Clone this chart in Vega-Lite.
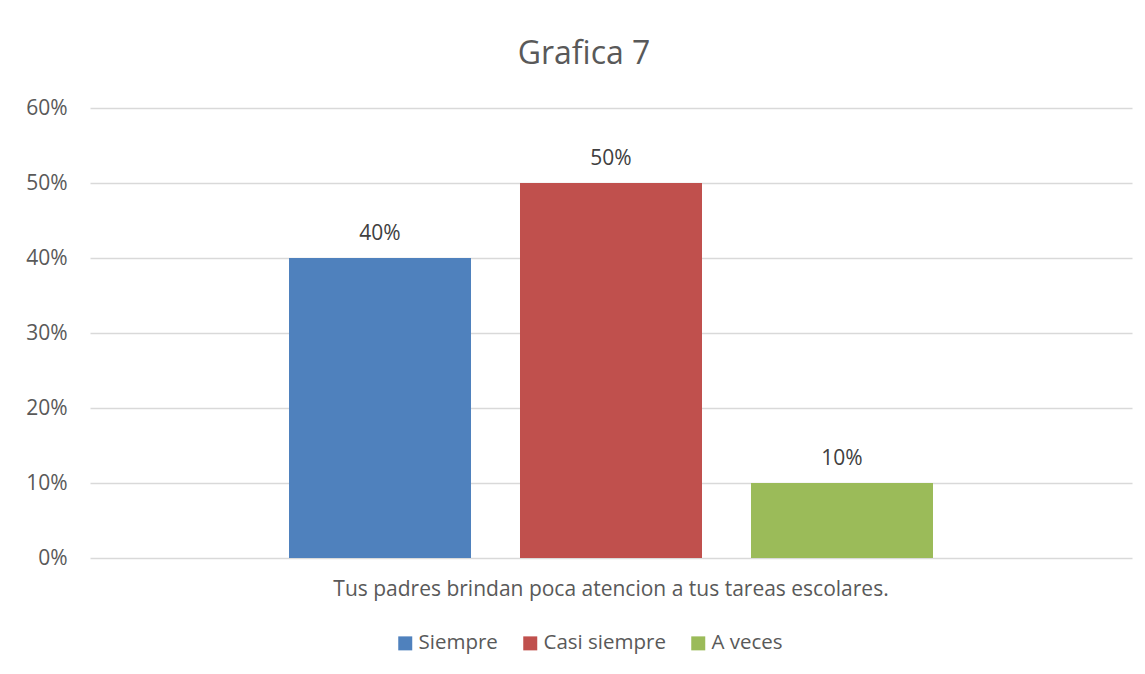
{
  "$schema": "https://vega.github.io/schema/vega-lite/v6.json",
  "autosize": {"type": "none"},
  "width": 1042,
  "height": 450,
  "padding": {"left": 90, "top": 108, "right": 13, "bottom": 116},
  "background": "white",
  "config": {"view": {"stroke": null}, "font": "Open Sans"},
  "title": {"text": "Grafica 7", "fontSize": 32, "font": "Open Sans", "fontWeight": "normal", "color": "#595959", "dx": -27, "offset": 26},
  "data": {"values": [
    {"pregunta": "Tus padres brindan poca atencion a tus tareas escolares.", "serie": "Siempre", "valor": 0.4},
    {"pregunta": "Tus padres brindan poca atencion a tus tareas escolares.", "serie": "Casi siempre", "valor": 0.5},
    {"pregunta": "Tus padres brindan poca atencion a tus tareas escolares.", "serie": "A veces", "valor": 0.1}
  ]},
  "encoding": {
    "x": {"field": "pregunta", "type": "nominal", "scale": {"paddingInner": 0, "paddingOuter": 0},
      "axis": {"title": null, "labelAngle": 0, "ticks": false, "domain": false, "labelPadding": 20, "labelFontSize": 21, "labelColor": "#595959", "labelFont": "Open Sans", "labelLimit": 1000}},
    "xOffset": {"field": "serie", "type": "nominal", "sort": ["Siempre", "Casi siempre", "A veces"], "scale": {"paddingInner": 0.2121, "paddingOuter": 0.8615}},
    "y": {"field": "valor", "type": "quantitative", "scale": {"domain": [0, 0.6]},
      "axis": {"title": null, "format": ".0%", "values": [0, 0.1, 0.2, 0.3, 0.4, 0.5, 0.6], "labelOverlap": false, "ticks": false, "domain": false, "labelPadding": 23, "labelFontSize": 21, "labelColor": "#595959", "labelFont": "Open Sans", "gridColor": "#d9d9d9", "gridWidth": 1.5}}
  },
  "layer": [
    {"mark": {"type": "bar"},
     "encoding": {"color": {"field": "serie", "type": "nominal", "sort": ["Siempre", "Casi siempre", "A veces"],
       "scale": {"domain": ["Siempre", "Casi siempre", "A veces"], "range": ["#4F81BD", "#C0504D", "#9BBB59"]},
       "legend": {"title": null, "orient": "none", "direction": "horizontal", "legendX": 305, "legendY": 525, "symbolType": "square", "symbolSize": 196, "symbolStrokeWidth": 0, "symbolOpacity": 1, "labelFontSize": 20.5, "labelColor": "#595959", "labelFont": "Open Sans", "labelOffset": 3, "columnPadding": 22}}}},
    {"mark": {"type": "text", "baseline": "alphabetic", "dy": -18, "fontSize": 21, "color": "#404040", "font": "Open Sans"},
     "encoding": {"text": {"field": "valor", "type": "quantitative", "format": ".0%"}}}
  ]
}
